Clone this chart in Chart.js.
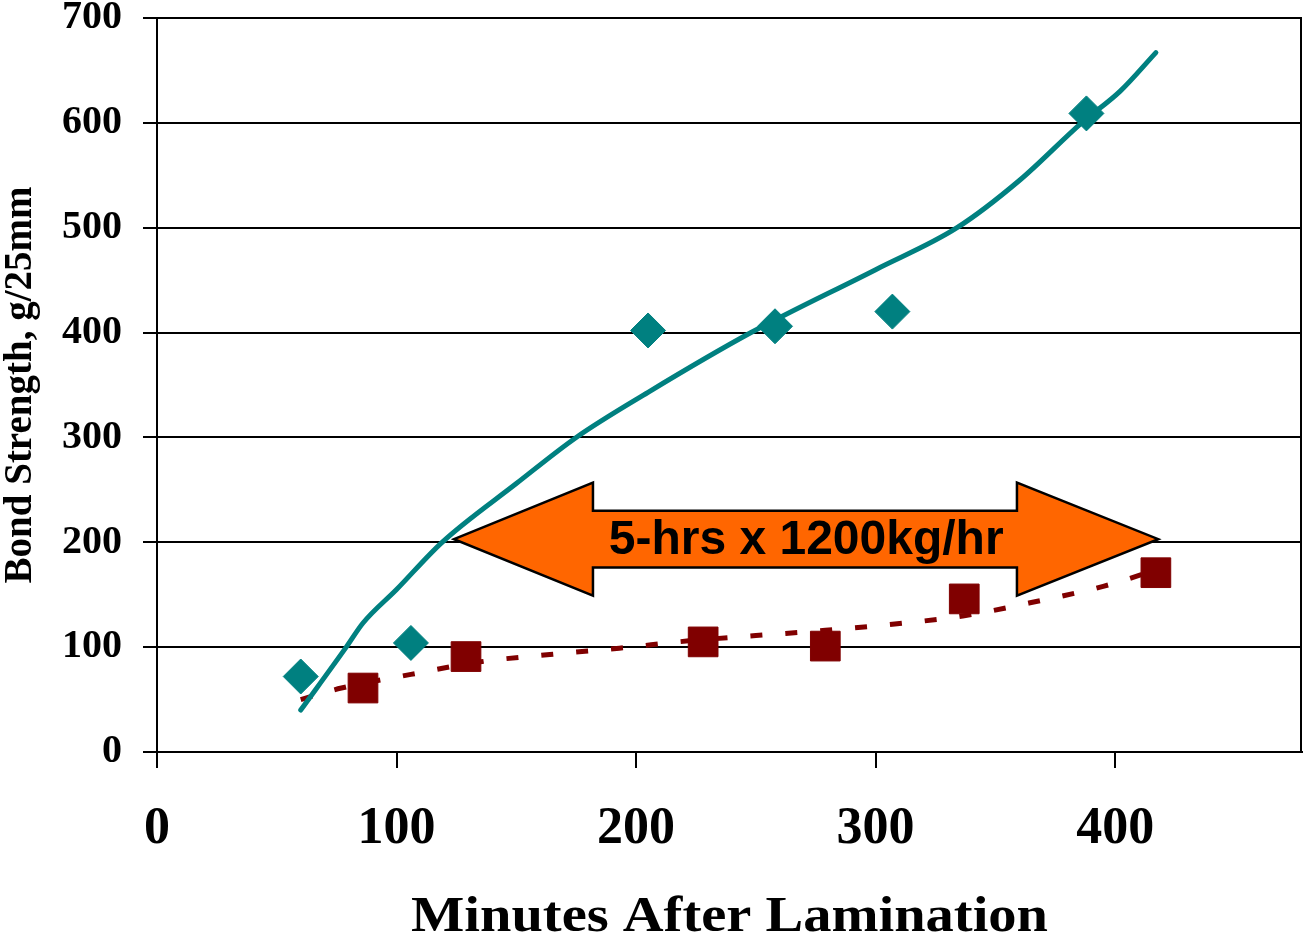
<!DOCTYPE html>
<html><head><meta charset="utf-8">
<script src="https://cdn.jsdelivr.net/npm/chart.js@4.4.1/dist/chart.umd.min.js"></script>
<style>html,body{margin:0;padding:0;background:#fff;overflow:hidden;} canvas{display:block;}</style>
</head><body>
<canvas id="c" width="1304" height="944"></canvas>
<script>
// ---- data ----
const xTicks = [0, 100, 200, 300, 400];
const yTicks = [0, 100, 200, 300, 400, 500, 600, 700];

const tealX = [60, 106, 205, 258, 307, 388];
const tealY = [72, 104, 402, 406, 420, 609];

const redX = [86, 129, 228, 279, 337, 417];
const redY = [61, 91, 105, 101, 146, 171];

const tealTrendX = [60, 79, 86, 100, 119, 150, 175, 205, 248, 300, 334, 360, 386, 402, 417];
const tealTrendY = [40, 100, 123, 155, 200, 256, 300, 343, 400, 460, 500, 545, 600, 630, 667];

const redTrendX = [60, 77, 106, 135, 164, 193, 222, 250, 279, 308, 337, 366, 395, 419];
const redTrendY = [50, 61, 74, 86, 93, 99, 106, 111, 116, 122, 130, 143, 158, 175];

const arrowText = '5-hrs x 1200kg/hr';
const arrowX = [124, 182, 359, 418];        // left tip, left head base, right head base, right tip
const arrowY = [149, 176, 203, 230, 257];   // head bottom, shaft bottom, middle, shaft top, head top

const xTitle = 'Minutes After Lamination';
const yTitle = 'Bond Strength, g/25mm';

// ---- chart ----
const SERIF = '"Liberation Serif", "Times New Roman", serif';
Chart.defaults.font.family = SERIF;
Chart.defaults.color = '#000';

const toPts = (xs, ys) => xs.map((x, i) => ({x: x, y: ys[i]}));

const arrowPlugin = {
  id: 'arrowNote',
  afterDatasetsDraw(chart) {
    const {ctx, scales: {x, y}} = chart;
    const px = arrowX.map(v => x.getPixelForValue(v));
    const py = arrowY.map(v => y.getPixelForValue(v));
    ctx.save();
    ctx.beginPath();
    ctx.moveTo(px[0], py[2]);
    ctx.lineTo(px[1], py[4]);
    ctx.lineTo(px[1], py[3]);
    ctx.lineTo(px[2], py[3]);
    ctx.lineTo(px[2], py[4]);
    ctx.lineTo(px[3], py[2]);
    ctx.lineTo(px[2], py[0]);
    ctx.lineTo(px[2], py[1]);
    ctx.lineTo(px[1], py[1]);
    ctx.lineTo(px[1], py[0]);
    ctx.closePath();
    ctx.fillStyle = '#FF6600';
    ctx.fill();
    ctx.lineWidth = 2.5;
    ctx.lineJoin = 'miter';
    ctx.strokeStyle = '#000';
    ctx.stroke();
    ctx.fillStyle = '#000';
    ctx.font = 'bold 48px "Liberation Sans", Arial, sans-serif';
    ctx.textAlign = 'center';
    ctx.textBaseline = 'middle';
    ctx.fillText(arrowText, (px[0] + px[3]) / 2, py[2] + 2);
    ctx.restore();
  }
};

const framePlugin = {
  id: 'frame',
  afterDraw(chart) {
    const {ctx, chartArea: a} = chart;
    ctx.save();
    ctx.strokeStyle = '#000';
    ctx.lineWidth = 2;
    ctx.beginPath();
    ctx.moveTo(a.right - 1, a.top);
    ctx.lineTo(a.right - 1, a.bottom);
    ctx.stroke();
    // x-axis title (drawn slightly wider to match the reference's typeface proportions)
    ctx.fillStyle = '#000';
    ctx.font = 'bold 50px ' + SERIF;
    ctx.textAlign = 'center';
    ctx.textBaseline = 'middle';
    const cx = (a.left + a.right) / 2;
    const target = 637;
    const w = ctx.measureText(xTitle).width;
    const sx = target / w;
    ctx.translate(cx, 918);
    ctx.scale(sx, 1);
    ctx.fillText(xTitle, 0, 0);
    ctx.restore();
  }
};

new Chart(document.getElementById('c'), {
  type: 'scatter',
  data: {
    datasets: [
      {
        label: 'A', data: toPts(tealX, tealY), order: 1,
        pointStyle: 'rectRot', pointRadius: 17.5, pointHoverRadius: 17.5,
        pointBackgroundColor: '#008080', pointBorderColor: '#008080', pointBorderWidth: 1,
        showLine: false
      },
      {
        label: 'B', data: toPts(redX, redY), order: 1,
        pointStyle: 'rect', pointRadius: 21, pointHoverRadius: 21,
        pointBackgroundColor: '#800000', pointBorderColor: '#800000', pointBorderWidth: 1,
        showLine: false
      },
      {
        label: 'A trend', data: toPts(tealTrendX, tealTrendY), order: 2,
        showLine: true, pointRadius: 0, pointHoverRadius: 0,
        borderColor: '#008080', borderWidth: 5, borderCapStyle: 'round', borderJoinStyle: 'round',
        cubicInterpolationMode: 'monotone', fill: false
      },
      {
        label: 'B trend', data: toPts(redTrendX, redTrendY), order: 2,
        showLine: true, pointRadius: 0, pointHoverRadius: 0,
        borderColor: '#800000', borderWidth: 5, borderDash: [12, 23], borderCapStyle: 'butt',
        cubicInterpolationMode: 'monotone', fill: false
      }
    ]
  },
  options: {
    responsive: false,
    animation: false,
    devicePixelRatio: 1,
    events: [],
    layout: {autoPadding: false, padding: {top: 18, right: 2, left: 0, bottom: 0}},
    plugins: {legend: {display: false}, tooltip: {enabled: false}},
    scales: {
      x: {
        type: 'linear', min: 0, max: 478,
        afterBuildTicks: s => { s.ticks = xTicks.map(v => ({value: v})); },
        ticks: {color: '#000', font: {size: 52, weight: 'bold', lineHeight: 1.2}, padding: 30, maxRotation: 0, autoSkip: false},
        grid: {drawOnChartArea: false, drawTicks: true, tickLength: 16, color: '#000', lineWidth: 2},
        border: {display: true, color: '#000', width: 2},
        title: {display: false, text: xTitle},
        afterFit: s => { s.height = 192; s.paddingLeft = 0; s.paddingRight = 0; }
      },
      y: {
        type: 'linear', min: 0, max: 700,
        afterBuildTicks: s => { s.ticks = yTicks.map(v => ({value: v})); },
        ticks: {color: '#000', font: {size: 40, weight: 'bold'}, padding: 21, autoSkip: false},
        grid: {color: '#000', lineWidth: 2, tickLength: 14},
        border: {display: true, color: '#000', width: 2},
        title: {display: true, text: yTitle, color: '#000', font: {size: 39, weight: 'bold', lineHeight: 1}, padding: {top: 1, bottom: 0}},
        afterFit: s => { s.width = 157; s.paddingTop = 0; s.paddingBottom = 0; }
      }
    }
  },
  plugins: [arrowPlugin, framePlugin]
});
</script>
</body></html>
